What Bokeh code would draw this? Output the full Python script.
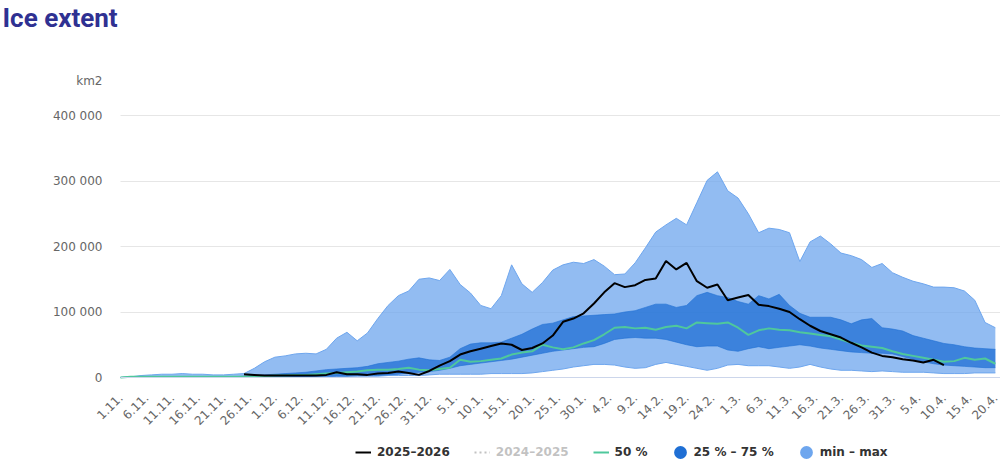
import math
from bokeh.plotting import figure
from bokeh.models import (ColumnDataSource, FixedTicker, Range1d, Legend, LegendItem, Title,
                          BoxAnnotation)
from bokeh.embed import file_html
from bokeh.resources import INLINE

# ---------------- data (thousand km2) ----------------
days = list(range(0, 171, 2))          # days since 1 Nov

max_k = [0, 1, 3, 4, 5, 5, 6, 5, 5, 4,
         4, 5, 6, 14, 24, 31, 33, 36, 37, 36,
         43, 60, 69, 56, 68, 90, 110, 125, 132, 150,
         152, 148, 165, 142, 129, 110, 105, 125, 172, 143,
         130, 145, 164, 172, 176, 174, 180, 170, 157, 158,
         175, 198, 222, 233, 243, 233, 267, 301, 314, 285,
         274, 250, 221, 228, 226, 221, 177, 207, 216, 204,
         190, 186, 180, 168, 174, 160, 153, 147, 143, 138,
         138, 137, 132, 118, 84, 76]

min_k = [0, 0, 0, 0, 0, 0, 0, 0, 0, 0,
         0, 0, 0, 0.5, 0.5, 1, 1, 1, 1, 1,
         1, 2, 2, 2, 2, 2, 3, 3, 3, 3,
         4, 5, 5, 5, 5, 5, 6, 6, 6, 6,
         7, 9, 11, 13, 16, 18, 20, 20, 19, 16,
         14, 15, 20, 23, 20, 17, 14, 11, 14, 19,
         20, 18, 18, 18, 16, 14, 16, 20, 16, 13,
         11, 11, 10, 9, 10, 9, 8, 8, 8, 7,
         6, 6, 6, 7, 7, 7]

p25_k = [0, 0, 0, 0, 0, 0, 0, 0, 0, 0,
         0, 0, 0.5, 1, 1, 1, 1, 1, 1, 2,
         2, 2, 2, 3, 3, 3, 4, 5, 7, 8,
         9, 11, 14, 18, 20, 22, 24, 26, 28, 31,
         34, 37, 40, 42, 44, 46, 47, 52, 58, 60,
         61, 60, 60, 58, 54, 50, 47, 48, 48, 42,
         40, 44, 47, 44, 46, 48, 50, 48, 45, 43,
         41, 39, 38, 37, 37, 36, 32, 28, 24, 21,
         19, 18, 17, 16, 15, 15]

p50_k = [0, 1, 1, 1, 1, 1, 1, 1, 1, 1,
         1, 1, 1, 2, 2, 3, 3, 4, 4, 5,
         6, 7, 8, 9, 11, 12, 12, 13, 15, 12,
         11, 13, 15, 27, 24, 25, 27, 29, 35, 38,
         40, 50, 46, 43, 46, 52, 57, 66, 76, 77,
         75, 76, 73, 77, 79, 75, 84, 83, 82, 84,
         76, 65, 72, 75, 73, 72, 69, 67, 65, 63,
         58, 53, 49, 47, 45, 40, 36, 33, 30, 27,
         24, 25, 30, 27, 29, 21]

p75_k = [0, 1, 1, 1, 1, 1, 1, 1, 1, 1,
         1, 1, 2, 3, 4, 5, 6, 7, 8, 10,
         12, 13, 14, 15, 17, 21, 23, 25, 28, 30,
         27, 26, 31, 44, 51, 53, 53, 54, 60, 66,
         74, 81, 83, 88, 93, 94, 95, 96, 97, 100,
         102, 107, 112, 112, 107, 110, 125, 130, 125, 122,
         116, 112, 125, 120, 127, 110, 98, 92, 92, 92,
         88, 82, 88, 90, 76, 74, 71, 64, 60, 56,
         52, 50, 47, 45, 44, 43]

cur_days = list(range(24, 161, 2))
cur_k = [5, 4, 3, 3, 3, 3, 3, 3, 4, 8,
         5, 5, 4, 6, 7, 9, 7, 4, 10, 18,
         25, 35, 40, 44, 48, 52, 50, 42, 45, 52,
         64, 85, 90, 98, 113, 130, 144, 138, 141, 149,
         151, 178, 165, 175, 147, 137, 142, 118, 122, 126,
         111, 109, 105, 100, 89, 79, 71, 66, 61, 53,
         46, 38, 33, 31, 28, 26, 23, 27, 19]

tick_days = list(range(0, 171, 5))
tick_labels = ["1.11.", "6.11.", "11.11.", "16.11.", "21.11.", "26.11.", "1.12.",
               "6.12.", "11.12.", "16.12.", "21.12.", "26.12.", "31.12.", "5.1.",
               "10.1.", "15.1.", "20.1.", "25.1.", "30.1.", "4.2.", "9.2.", "14.2.",
               "19.2.", "24.2.", "1.3.", "6.3.", "11.3.", "16.3.", "21.3.", "26.3.",
               "31.3.", "5.4.", "10.4.", "15.4.", "20.4."]
y_ticks = [0, 100000, 200000, 300000, 400000]
y_tick_labels = ["0", "100 000", "200 000", "300 000", "400 000"]
unit_label = "km2"

for arr in (max_k, min_k, p25_k, p50_k, p75_k):
    assert len(arr) == len(days)
assert len(cur_k) == len(cur_days)
assert len(tick_labels) == len(tick_days)

K = 1000
src = ColumnDataSource(dict(
    x=days,
    mn=[v * K for v in min_k], mx=[v * K for v in max_k],
    q1=[v * K for v in p25_k], q2=[v * K for v in p50_k], q3=[v * K for v in p75_k]))
cur_src = ColumnDataSource(dict(x=cur_days, y=[v * K for v in cur_k]))

LIGHT = "#6ea6ee"
DARK = "#1f6fd4"
GREEN = "#4fc89c"
FONT = "DejaVu Sans"

# layout geometry (pixels)
W, H = 1000, 463
FRAME_LEFT = 90         # frame starts left of day 0 so that the first date label shows
DAY0_PX = 120           # pixel column of 1.11.
X_END = 171.0           # day at the right edge
FRAME_TOP = 30          # frame extends above the 400 000 gridline
GRID_TOP_PX = 115       # pixel row of the 400 000 gridline
ZERO_PX = 377           # pixel row of 0
UNIT_PX = 80            # pixel row of the "km2" label
LABEL_RIGHT_PX = 102    # right edge of the y tick labels
PER_PX = 400000 / (ZERO_PX - GRID_TOP_PX)
y_top = PER_PX * (ZERO_PX - FRAME_TOP)
y_bottom = -PER_PX * (H - ZERO_PX)
unit_pos = PER_PX * (ZERO_PX - UNIT_PX)
x_start = -X_END * (DAY0_PX - FRAME_LEFT) / (W - DAY0_PX)

p = figure(width=W, height=H, output_backend="svg", toolbar_location=None,
           title=None, x_range=Range1d(x_start, X_END), y_range=Range1d(y_bottom, y_top),
           min_border_left=FRAME_LEFT, min_border_right=0, min_border_top=FRAME_TOP,
           min_border_bottom=0)
p.outline_line_color = None
p.background_fill_color = "white"
p.border_fill_color = "white"

# white mask over the gridlines left of 1.11.
p.add_layout(BoxAnnotation(right=0, fill_color="white", fill_alpha=1.0, line_alpha=0,
                           level="underlay"))

# bands
p.varea(x="x", y1="mn", y2="mx", source=src, fill_color=LIGHT, fill_alpha=0.75)
p.line(x="x", y="mx", source=src, line_color=LIGHT, line_width=1)
p.line(x="x", y="mn", source=src, line_color=LIGHT, line_width=1)
p.varea(x="x", y1="q1", y2="q3", source=src, fill_color=DARK, fill_alpha=0.75)
p.line(x="x", y="q3", source=src, line_color=DARK, line_width=1, line_alpha=0.6)
p.line(x="x", y="q1", source=src, line_color=DARK, line_width=1, line_alpha=0.6)
r50 = p.line(x="x", y="q2", source=src, line_color=GREEN, line_width=2)
rcur = p.line(x="x", y="y", source=cur_src, line_color="black", line_width=2)

# legend-only renderers (kept outside the visible range)
rprev = p.line(x=[-1000, -999], y=[0, 0], line_color="#333333", line_width=2,
               line_dash="2 3")
rprev.visible = False
rq = p.ellipse(x=[-1000], y=[0], width=10, height=10, width_units="screen",
               height_units="screen", fill_color=DARK, line_color=None)
rm = p.ellipse(x=[-1000], y=[0], width=10, height=10, width_units="screen",
               height_units="screen", fill_color=LIGHT, line_color=None)

# axes
p.xaxis.fixed_location = 0
p.xaxis.bounds = (0, X_END)
p.xaxis.ticker = FixedTicker(ticks=tick_days)
p.xaxis.major_label_overrides = {d: t for d, t in zip(tick_days, tick_labels)}
p.xaxis.major_label_orientation = math.pi / 4
p.xaxis.axis_line_color = "#ccd6eb"
p.xaxis.major_tick_line_color = None
p.xaxis.major_tick_out = 0
p.xaxis.major_tick_in = 0
p.xaxis.minor_tick_line_color = None
p.xaxis.major_label_text_font = FONT
p.xaxis.major_label_text_font_size = "12px"
p.xaxis.major_label_text_color = "#666666"
p.xaxis.major_label_standoff = 18

y_all = y_ticks + [unit_pos]
p.yaxis.ticker = FixedTicker(ticks=y_all)
ovr = {t: s for t, s in zip(y_ticks, y_tick_labels)}
ovr[unit_pos] = unit_label
p.yaxis.major_label_overrides = ovr
p.yaxis.axis_line_color = None
p.yaxis.major_tick_line_color = None
p.yaxis.major_tick_out = 0
p.yaxis.major_tick_in = 0
p.yaxis.minor_tick_line_color = None
p.yaxis.major_label_text_font = FONT
p.yaxis.major_label_text_font_size = "12px"
p.yaxis.major_label_text_color = "#666666"
p.yaxis.major_label_standoff = FRAME_LEFT - LABEL_RIGHT_PX

p.xgrid.visible = False
p.ygrid.ticker = FixedTicker(ticks=y_ticks)
p.ygrid.grid_line_color = "#e6e6e6"

# title
p.add_layout(Title(text="Ice extent", align="left", offset=2 - FRAME_LEFT, standoff=-4,
                   text_font="Roboto", text_font_style="bold", text_font_size="26px",
                   text_color="#2f3192"), "above")

# legend (inside the extended frame, below the axis labels)
leg = Legend(items=[LegendItem(label="2025–2026", renderers=[rcur]),
                    LegendItem(label="2024–2025", renderers=[rprev]),
                    LegendItem(label="50 %", renderers=[r50]),
                    LegendItem(label="25 % – 75 %", renderers=[rq]),
                    LegendItem(label="min – max", renderers=[rm])],
             orientation="horizontal", location=(355 - FRAME_LEFT, 1), padding=0, margin=0,
             spacing=24, label_standoff=6, glyph_width=16, glyph_height=20,
             label_height=20, border_line_color=None, background_fill_alpha=0,
             label_text_font=FONT, label_text_font_style="bold",
             label_text_font_size="12px", label_text_color="#333333",
             click_policy="hide", inactive_fill_color="white", inactive_fill_alpha=0.7)
p.add_layout(leg)

open("out.html", "w").write(file_html(p, INLINE))
